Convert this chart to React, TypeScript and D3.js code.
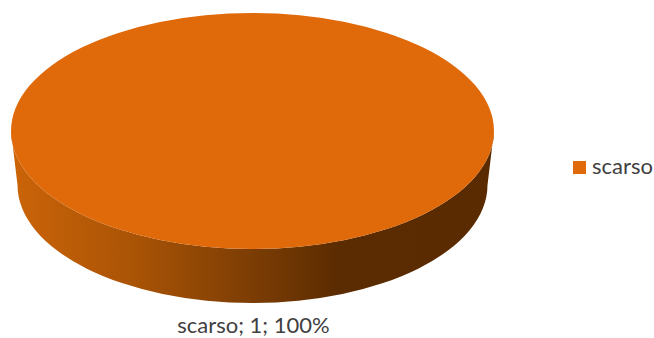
import React from "react";
import * as d3 from "d3";

const categories = ["scarso"];
const values = [1];
const percentLabels = ["100%"];
const sliceColors = ["#e0690a"];

const W = 654, H = 338;
const cx = 252.5, topCy = 131, rx = 241.5, ry = 118;
const botCx = 252.5, botCy = 185, botRx = 235, botRy = 118;

export default function App() {
  const pie = d3.pie<number>().sort(null);
  const arcs = pie(values);
  const arcGen = d3.arc<d3.PieArcDatum<number>>().innerRadius(0).outerRadius(rx);
  const total = d3.sum(values);

  const sideD =
    `M${cx - rx},${topCy} A${rx},${ry} 0 0 0 ${cx + rx},${topCy} ` +
    `L${botCx + botRx},${botCy} A${botRx},${botRy} 0 0 1 ${botCx - botRx},${botCy} Z`;

  return (
    <svg width={W} height={H} style={{ position: "absolute", left: 0, top: 0 }}>
      <defs>
        <linearGradient id="sideGrad" gradientUnits="userSpaceOnUse" x1={11} x2={494} y1={0} y2={0}>
          <stop offset="0" stopColor="#cc6408" />
          <stop offset="0.25" stopColor="#aa5406" />
          <stop offset="0.5" stopColor="#7c3d04" />
          <stop offset="0.68" stopColor="#5b2b01" />
          <stop offset="1" stopColor="#5a2a00" />
        </linearGradient>
      </defs>
      <path d={sideD} fill="url(#sideGrad)" />
      <g transform={`translate(${cx},${topCy}) scale(1,${ry / rx})`}>
        {arcs.map((a, i) => (
          <path key={i} d={arcGen(a) ?? ""} fill={sliceColors[i]} />
        ))}
      </g>
      <text x={253.5} y={333} textAnchor="middle" fontFamily="Lato" fontSize={22} fill="#404040">
        {`${categories[0]}; ${values[0]}; ${percentLabels[0] ?? d3.format(".0%")(values[0] / total)}`}
      </text>
      <rect x={573} y={161} width={13} height={13} fill={sliceColors[0]} />
      <text x={592} y={174} fontFamily="Lato" fontSize={22} fill="#404040">
        {categories[0]}
      </text>
    </svg>
  );
}
